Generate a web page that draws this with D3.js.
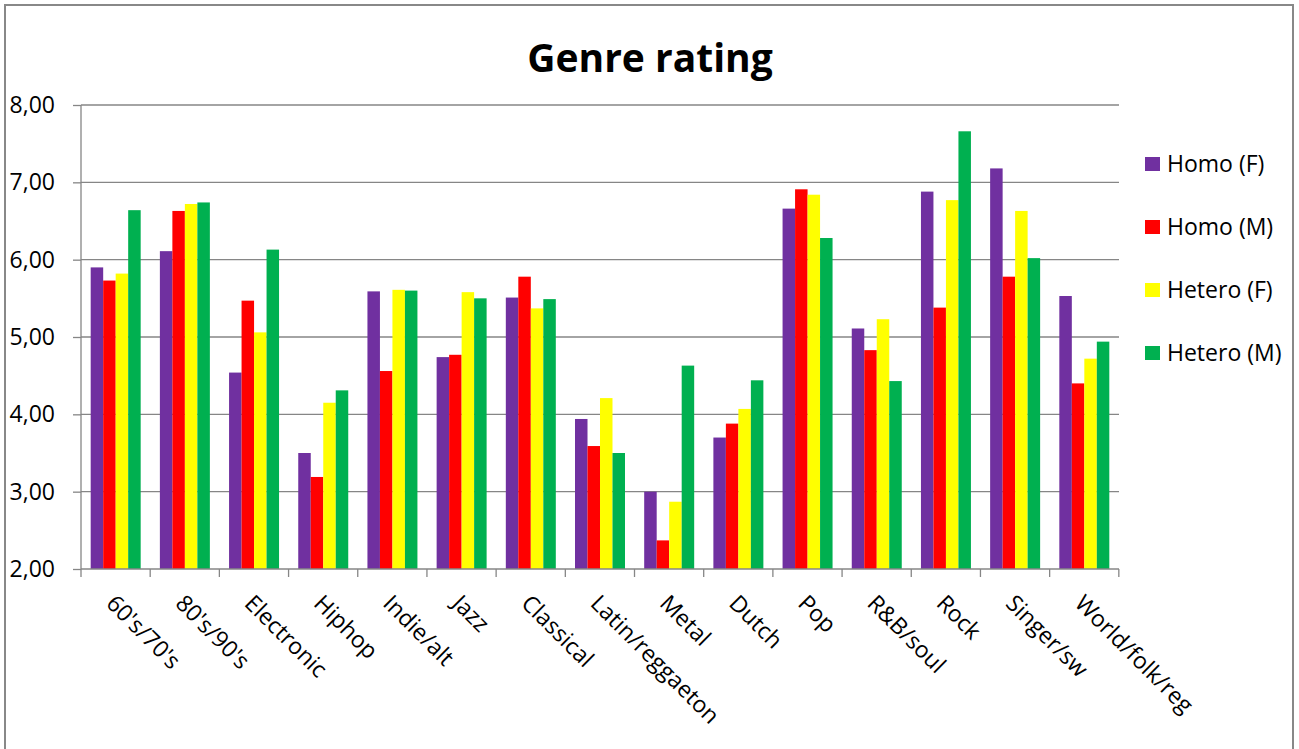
<!DOCTYPE html>
<html>
<head>
<meta charset="utf-8">
<script src="https://cdn.jsdelivr.net/npm/d3@7"></script>
<style>
  body { margin: 0; background: #fff; }
  text { font-family: "Open Sans", sans-serif; fill: #000; }
</style>
</head>
<body>
<script>
var genres = ["60's/70's", "80's/90's", "Electronic", "Hiphop", "Indie/alt", "Jazz", "Classical",
              "Latin/reggaeton", "Metal", "Dutch", "Pop", "R&B/soul", "Rock", "Singer/sw", "World/folk/reg"];

var seriesNames = ["Homo (F)", "Homo (M)", "Hetero (F)", "Hetero (M)"];
var seriesColors = ["#7030A0", "#FF0000", "#FFFF00", "#00B050"];

var homoF   = [5.90, 6.11, 4.54, 3.50, 5.59, 4.74, 5.51, 3.94, 3.00, 3.70, 6.66, 5.11, 6.88, 7.18, 5.53];
var homoM   = [5.73, 6.63, 5.47, 3.19, 4.56, 4.77, 5.78, 3.59, 2.37, 3.88, 6.91, 4.83, 5.38, 5.78, 4.40];
var heteroF = [5.82, 6.72, 5.06, 4.15, 5.61, 5.58, 5.37, 4.21, 2.87, 4.07, 6.84, 5.23, 6.77, 6.63, 4.72];
var heteroM = [6.64, 6.74, 6.13, 4.31, 5.60, 5.50, 5.49, 3.50, 4.63, 4.44, 6.28, 4.43, 7.66, 6.02, 4.94];

var yTicks = [2, 3, 4, 5, 6, 7, 8];

var allSeries = [homoF, homoM, heteroF, heteroM];

var W = 1299, H = 749;
var plotLeft = 81, plotRight = 1119, plotTop = 105, plotBottom = 569;

var svg = d3.select("body").append("svg")
    .attr("width", W)
    .attr("height", H);

// chart border
svg.append("rect")
    .attr("x", 5).attr("y", 5)
    .attr("width", 1288).attr("height", 800)
    .attr("fill", "none")
    .attr("stroke", "#888")
    .attr("stroke-width", 2);

svg.append("text")
    .attr("x", 650).attr("y", 72)
    .attr("text-anchor", "middle")
    .style("font-size", "39px")
    .style("font-weight", "bold")
    .text("Genre rating");

var x0 = d3.scaleBand()
    .domain(genres)
    .range([plotLeft, plotRight])
    .paddingInner(0.2775)
    .paddingOuter(0.14);

var x1 = d3.scaleBand()
    .domain(d3.range(seriesNames.length))
    .range([0, x0.bandwidth()]);

var y = d3.scaleLinear()
    .domain([2, 8])
    .range([plotBottom, plotTop]);

// gridlines
svg.append("g").selectAll("line")
    .data(yTicks.slice(1))
    .enter().append("line")
    .attr("x1", plotLeft).attr("x2", plotRight)
    .attr("y1", d => y(d)).attr("y2", d => y(d))
    .attr("stroke", "#868686")
    .attr("stroke-width", 1.3);

// bars
var groups = svg.append("g").selectAll("g")
    .data(genres)
    .enter().append("g")
    .attr("transform", d => "translate(" + x0(d) + ",0)");

groups.selectAll("rect")
    .data((g, i) => allSeries.map((s, k) => ({k: k, v: s[i]})))
    .enter().append("rect")
    .attr("x", d => x1(d.k))
    .attr("width", x1.bandwidth())
    .attr("y", d => y(d.v))
    .attr("height", d => y(2) - y(d.v))
    .attr("fill", d => seriesColors[d.k]);

// y axis
var yAxis = d3.axisLeft(y)
    .tickValues(yTicks)
    .tickSizeInner(8)
    .tickSizeOuter(0)
    .tickPadding(18)
    .tickFormat(d => d3.format(".2f")(d).replace(".", ","));

var gy = svg.append("g")
    .attr("transform", "translate(" + plotLeft + ",0)")
    .call(yAxis);
gy.select(".domain").remove();
gy.append("line")
    .attr("x1", 0).attr("x2", 0)
    .attr("y1", plotTop).attr("y2", plotBottom);
gy.selectAll("line").attr("stroke", "#868686").attr("stroke-width", 1.3);
gy.selectAll("text").style("font-size", "23px").style("font-family", "'Open Sans', sans-serif").attr("fill", "#000");

// x axis line and boundary ticks
svg.append("line")
    .attr("x1", plotLeft).attr("x2", plotRight)
    .attr("y1", plotBottom).attr("y2", plotBottom)
    .attr("stroke", "#868686").attr("stroke-width", 1.3);

var bounds = d3.range(genres.length + 1).map(i => plotLeft + i * x0.step());
svg.append("g").selectAll("line")
    .data(bounds)
    .enter().append("line")
    .attr("x1", d => d).attr("x2", d => d)
    .attr("y1", plotBottom).attr("y2", plotBottom + 8)
    .attr("stroke", "#868686").attr("stroke-width", 1.3);

// category labels, rotated
svg.append("g").selectAll("text")
    .data(genres)
    .enter().append("text")
    .attr("transform", d => "translate(" + (x0(d) + x0.bandwidth() / 2 + 1) + "," + 593 + ") rotate(45)")
    .attr("dy", "0.72em")
    .style("font-size", "23px")
    .text(d => d);

// legend
var legend = svg.append("g").selectAll("g")
    .data(seriesNames)
    .enter().append("g")
    .attr("transform", (d, i) => "translate(1145," + (164 + i * 63) + ")");

legend.append("rect")
    .attr("x", 0).attr("y", -7)
    .attr("width", 15).attr("height", 14)
    .attr("fill", (d, i) => seriesColors[i]);

legend.append("text")
    .attr("x", 22).attr("y", 0)
    .attr("dy", "0.35em")
    .style("font-size", "23px")
    .text(d => d);
</script>
</body>
</html>
